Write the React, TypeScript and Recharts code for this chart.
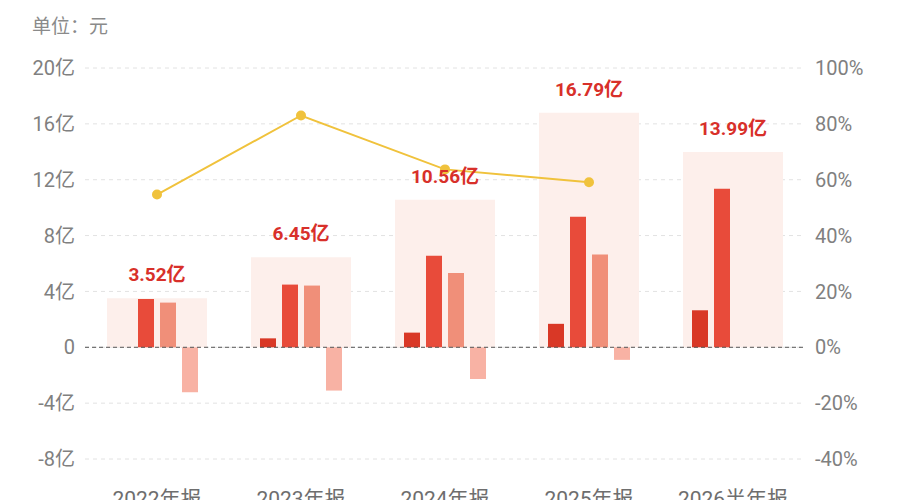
import {
  Bar,
  CartesianGrid,
  ComposedChart,
  LabelList,
  Line,
  ReferenceLine,
  XAxis,
  YAxis,
} from "recharts";

const categories = ["2022年报", "2023年报", "2024年报", "2025年报", "2026半年报"];
const totals = [3.52, 6.45, 10.56, 16.79, 13.99];
const seriesA = [null, 0.64, 1.05, 1.68, 2.65];
const seriesB = [3.46, 4.49, 6.56, 9.35, 11.35];
const seriesC = [3.2, 4.42, 5.32, 6.64, null];
const seriesD = [-3.22, -3.1, -2.27, -0.9, null];
const ratio = [54.7, 83.0, 63.7, 59.1, null];

const leftTicks = [-8, -4, 0, 4, 8, 12, 16, 20];
const rightTicks = [-40, -20, 0, 20, 40, 60, 80, 100];

const FONT = "Roboto, 'Noto Sans CJK SC', sans-serif";

const data = categories.map((name, i) => ({
  name,
  total: totals[i],
  a: seriesA[i],
  b: seriesB[i],
  c: seriesC[i],
  d: seriesD[i],
  ratio: ratio[i],
}));

export default function App() {
  return (
    <div style={{ position: "absolute", left: 0, top: 0, width: 900, height: 500, fontFamily: FONT }}>
      <div style={{ position: "absolute", left: 32, top: 11, fontSize: 19, color: "#8a8a8a" }}>单位：元</div>
      <ComposedChart
        width={900}
        height={500}
        data={data}
        barGap={6}
        margin={{ top: 68, right: 0, bottom: 0, left: 0 }}
        style={{ fontFamily: FONT }}
      >
        <CartesianGrid yAxisId="left" vertical={false} stroke="#e2e2e2" strokeDasharray="4 4" />
        <XAxis xAxisId="bg" dataKey="name" hide />
        <XAxis
          xAxisId="main"
          dataKey="name"
          height={41}
          axisLine={false}
          tickLine={false}
          tickSize={0}
          tickMargin={2}
          tick={{ fill: "#6e6e6e", fontSize: 21 }}
        />
        <YAxis
          yAxisId="left"
          width={85}
          domain={[-8, 20]}
          ticks={leftTicks}
          axisLine={false}
          tickLine={false}
          tickSize={0}
          tickMargin={10}
          tick={{ fill: "#808080", fontSize: 20 }}
          tickFormatter={(v) => (v === 0 ? "0" : `${v}亿`)}
        />
        <YAxis
          yAxisId="right"
          orientation="right"
          width={95}
          domain={[-40, 100]}
          ticks={rightTicks}
          axisLine={false}
          tickLine={false}
          tickSize={0}
          tickMargin={10}
          tick={{ fill: "#808080", fontSize: 20 }}
          tickFormatter={(v) => `${v}%`}
        />
        <Bar xAxisId="bg" yAxisId="left" dataKey="total" barSize={100} fill="#fdefeb" isAnimationActive={false}>
          <LabelList
            dataKey="total"
            position="top"
            offset={17}
            formatter={(v) => `${v}亿`}
            fill="#d8302a"
            fontSize={19}
            fontWeight="bold"
          />
        </Bar>
        <ReferenceLine yAxisId="left" xAxisId="main" y={0} stroke="#555" strokeDasharray="4 3" />
        <Bar xAxisId="main" yAxisId="left" dataKey="a" barSize={16} fill="#d93826" isAnimationActive={false} />
        <Bar xAxisId="main" yAxisId="left" dataKey="b" barSize={16} fill="#e84b3a" isAnimationActive={false} />
        <Bar xAxisId="main" yAxisId="left" dataKey="c" barSize={16} fill="#f08f79" isAnimationActive={false} />
        <Bar xAxisId="main" yAxisId="left" dataKey="d" barSize={16} fill="#f8b2a4" isAnimationActive={false} />
        <Line
          xAxisId="main"
          yAxisId="right"
          dataKey="ratio"
          stroke="#f0c23c"
          strokeWidth={2}
          dot={{ r: 5, fill: "#f0c23c", stroke: "none" }}
          activeDot={false}
          isAnimationActive={false}
        />
      </ComposedChart>
    </div>
  );
}
